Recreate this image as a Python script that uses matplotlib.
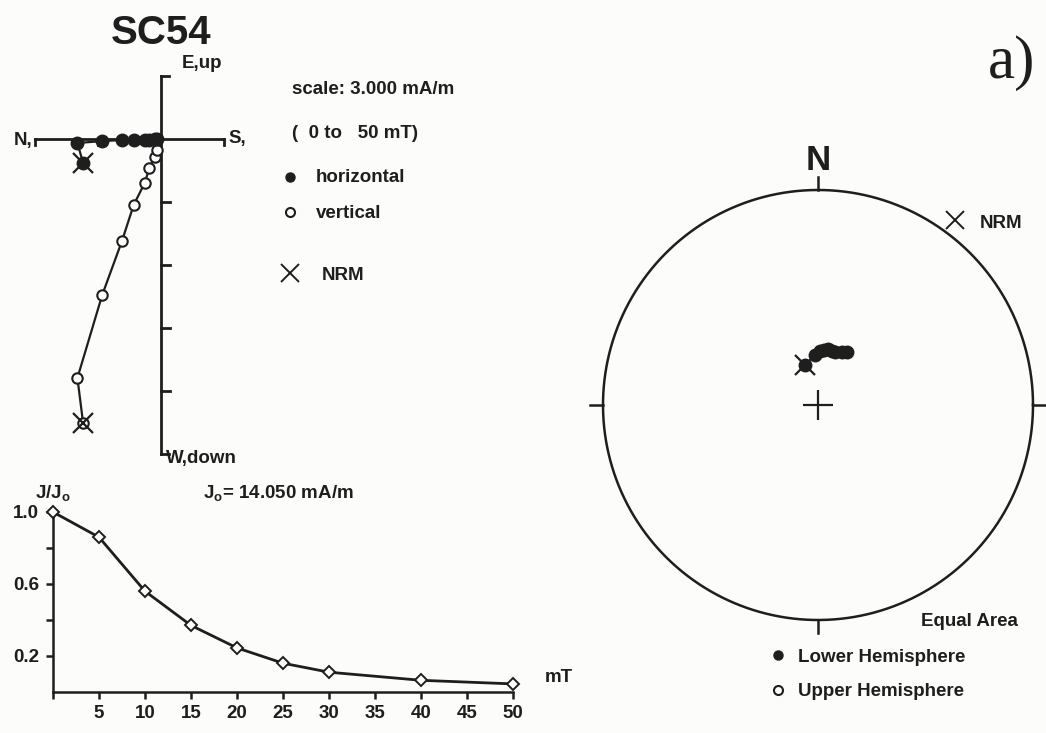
import numpy as np
import matplotlib
matplotlib.use('Agg')
import matplotlib.pyplot as plt

W, H = 1046, 733
INK = '#1e1e1e'
BG = '#fcfcfa'

plt.rcParams['font.family'] = ['Liberation Sans', 'DejaVu Sans']
plt.rcParams['font.weight'] = 'bold'
plt.rcParams['mathtext.fontset'] = 'custom'
plt.rcParams['mathtext.rm'] = 'Liberation Sans:bold'
plt.rcParams['mathtext.bf'] = 'Liberation Sans:bold'
plt.rcParams['mathtext.it'] = 'Liberation Sans:bold'

# demagnetisation steps (mT)
steps = [0, 5, 10, 15, 20, 25, 30, 40, 50]

# vector components (mA/m) for the orthogonal plot
north = [3.71, 3.98, 2.80, 1.86, 1.30, 0.78, 0.55, 0.30, 0.17]
east = [-1.14, -0.19, -0.10, -0.05, -0.05, -0.04, -0.03, -0.02, -0.01]
down = [13.52, 11.38, 7.43, 4.86, 3.14, 2.10, 1.38, 0.86, 0.52]

# normalised intensity J/Jo
j_ratio = [1.0, 0.86, 0.56, 0.37, 0.245, 0.16, 0.11, 0.065, 0.045]

# directions for the equal-area net (deg)
dec = [342, 357, 2, 6, 10, 14, 18, 24, 29]
inc = [74.1, 71.0, 69.5, 69.0, 68.5, 68.8, 68.9, 68.0, 67.1]

x_ticks = [0, 5, 10, 15, 20, 25, 30, 35, 40, 45, 50]
x_labels = ['', '5', '10', '15', '20', '25', '30', '35', '40', '45', '50']
y_ticks = [0.2, 0.4, 0.6, 0.8, 1.0]
y_labels = ['0.2', '', '0.6', '', '1.0']

zij_ticks = [-3, -6, -9, -12]


def px_axes(fig, x0, y0, x1, y1):
    return fig.add_axes([x0 / W, 1 - y1 / H, (x1 - x0) / W, (y1 - y0) / H])


fig = plt.figure(figsize=(W / 100, H / 100), dpi=100, facecolor=BG)

# overlay for free text, pixel coordinates
ov = px_axes(fig, 0, 0, W, H)
ov.set_xlim(0, W)
ov.set_ylim(H, 0)
ov.axis('off')

fs = 13.5

# ---------------- Zijderveld plot ----------------
S = 21.0          # px per mA/m
ox, oy = 161, 139  # origin in px
zx0, zy0, zx1, zy1 = 0, 40, 280, 480
zij = px_axes(fig, zx0, zy0, zx1, zy1)
zij.set_xlim((zx0 - ox) / S, (zx1 - ox) / S)
zij.set_ylim((oy - zy1) / S, (oy - zy0) / S)
zij.axis('off')

alw = 2.0
hook = 0.3
zij.plot([-6, 3], [0, 0], color=INK, lw=alw, zorder=1)
zij.plot([-6, -6], [0, -hook], color=INK, lw=alw, zorder=1)
zij.plot([3, 3], [0, -hook], color=INK, lw=alw, zorder=1)
zij.plot([-3, -3], [0, -hook], color=INK, lw=alw, zorder=1)
zij.plot([0, 0], [3, -15], color=INK, lw=alw, zorder=1)
zij.plot([0, 0.4], [3, 3], color=INK, lw=alw, zorder=1)
zij.plot([0, 0.4], [-15, -15], color=INK, lw=alw, zorder=1)
for t in zij_ticks:
    zij.plot([0, 0.45], [t, t], color=INK, lw=alw, zorder=1)

hx = [-n for n in north]
vz = [-d for d in down]
# vertical projection
zij.plot(hx, vz, '-o', color=INK, lw=1.6, ms=7.5, mfc='white', mec=INK,
         mew=1.5, zorder=3)
# horizontal projection
zij.plot(hx, east, '-o', color=INK, lw=1.6, ms=9, mfc=INK, mec=INK,
         zorder=4)
# NRM markers
zij.plot(hx[0], vz[0], 'x', color=INK, ms=15, mew=1.6, zorder=5)
zij.plot(hx[0], east[0], 'x', color=INK, ms=15, mew=1.6, zorder=5)

ov.text(161, 33, 'SC54', fontsize=29, ha='center', va='center', color=INK)
ov.text(182, 64, 'E,up', fontsize=fs, ha='left', va='center', color=INK)
ov.text(228, 139, 'S,', fontsize=fs, ha='left', va='center', color=INK)
ov.text(14, 141, 'N,', fontsize=fs, ha='left', va='center', color=INK)
ov.text(166, 458, 'W,down', fontsize=fs, ha='left', va='center', color=INK)

ov.text(292, 90, 'scale: 3.000 mA/m', fontsize=fs, ha='left', va='center', color=INK)
ov.text(292, 133, '(  0 to   50 mT)', fontsize=fs, ha='left', va='center', color=INK)
ov.plot(290, 177, 'o', color=INK, ms=6.5)
ov.text(316, 178, 'horizontal', fontsize=fs, ha='left', va='center', color=INK)
ov.plot(290, 212, 'o', color=INK, ms=6.5, mfc='white', mew=1.5)
ov.text(316, 214, 'vertical', fontsize=fs, ha='left', va='center', color=INK)
ov.plot(290, 273, 'x', color=INK, ms=13, mew=1.4)
ov.text(322, 275, 'NRM', fontsize=fs, ha='left', va='center', color=INK)

# ---------------- intensity decay ----------------
jax = px_axes(fig, 53, 512, 513, 692)
jax.set_facecolor('none')
jax.plot(steps, j_ratio, '-D', color=INK, lw=2.0, ms=6.5, mfc='white',
         mec=INK, mew=1.4, clip_on=False, zorder=3)
jax.set_xlim(0, 50)
jax.set_ylim(0, 1.0)
for side in ['top', 'right']:
    jax.spines[side].set_visible(False)
for side in ['left', 'bottom']:
    jax.spines[side].set_linewidth(1.8)
    jax.spines[side].set_color(INK)
jax.set_xticks(x_ticks)
jax.set_xticklabels(x_labels)
jax.set_yticks(y_ticks)
jax.set_yticklabels(y_labels)
jax.tick_params(direction='out', length=5, width=1.8, color=INK,
                labelsize=fs, labelcolor=INK)
jax.tick_params(axis='x', pad=4)
jax.tick_params(axis='y', pad=5)

ov.text(35, 493, r'$\mathbf{J/J_o}$', fontsize=fs, ha='left', va='center', color=INK)
ov.text(203, 493, r'$\mathbf{J_o}$' + '= 14.050 mA/m', fontsize=fs,
        ha='left', va='center', color=INK)
ov.text(545, 677, 'mT', fontsize=fs, ha='left', va='center', color=INK)

# ---------------- equal-area net ----------------
cx, cy, R = 818, 405, 215
lim = 240 / R
net = px_axes(fig, cx - 240, cy - 240, cx + 240, cy + 240)
net.set_xlim(-lim, lim)
net.set_ylim(-lim, lim)
net.axis('off')

th = np.linspace(0, 2 * np.pi, 400)
net.plot(np.cos(th), np.sin(th), color=INK, lw=1.8)
tk = 13 / R
net.plot([0, 0], [1, 1 + tk], color=INK, lw=1.8)
net.plot([0, 0], [-1, -1 - tk], color=INK, lw=1.8)
net.plot([-1, -1 - tk], [0, 0], color=INK, lw=1.8)
net.plot([1, 1 + tk], [0, 0], color=INK, lw=1.8)
net.plot(0, 0, '+', color=INK, ms=22, mew=1.6)

d = np.radians(dec)
r = np.sqrt(2) * np.sin(np.radians(90 - np.array(inc)) / 2)
px = r * np.sin(d)
py = r * np.cos(d)
net.plot(px, py, 'o', color=INK, ms=9, zorder=3)
net.plot(px[0], py[0], 'x', color=INK, ms=15, mew=1.6, zorder=4)

ov.text(818, 160, 'N', fontsize=25, ha='center', va='center', color=INK)
ov.plot(955, 220, 'x', color=INK, ms=13, mew=1.4)
ov.text(980, 223, 'NRM', fontsize=fs, ha='left', va='center', color=INK)
ov.text(1018, 621, 'Equal Area', fontsize=fs, ha='right', va='center', color=INK)
ov.plot(778, 655, 'o', color=INK, ms=6.5)
ov.text(798, 657, 'Lower Hemisphere', fontsize=fs, ha='left', va='center', color=INK)
ov.plot(778, 690, 'o', color=INK, ms=6.5, mfc='white', mew=1.5)
ov.text(798, 692, 'Upper Hemisphere', fontsize=fs, ha='left', va='center', color=INK)

ov.text(1012, 63, 'a)', fontsize=44, ha='center', va='center', color=INK,
        family='Liberation Serif', weight='normal')

fig.savefig('out.png', dpi=100, facecolor=BG)
